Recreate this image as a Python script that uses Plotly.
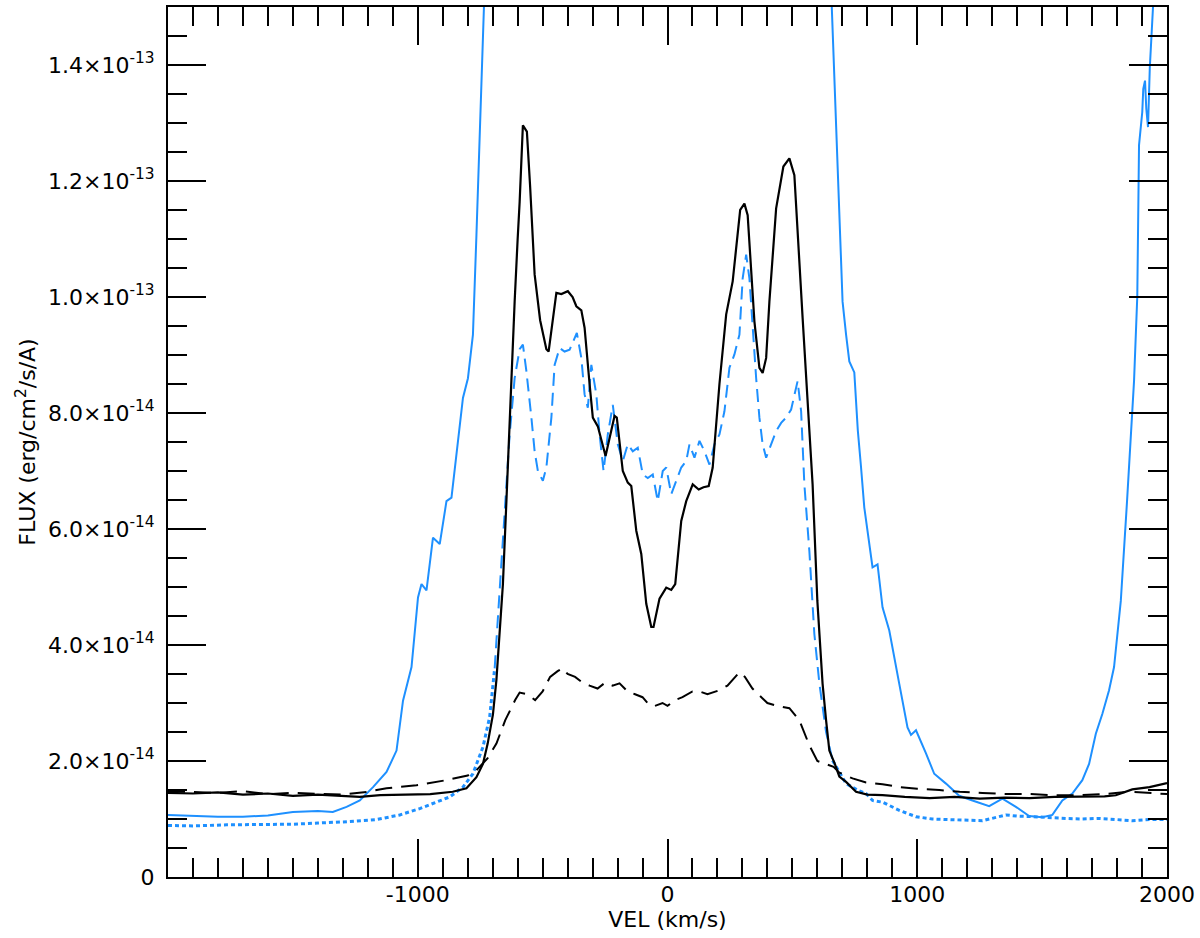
import numpy as np
import plotly.graph_objects as go

# velocities in km/s, fluxes in units of 1e-14 erg/cm^2/s/A
v_black = [-2000, -1900, -1800, -1700, -1600, -1500, -1400, -1300, -1232, -1150, -1050, -950,
           -860, -805, -765, -739, -720, -699, -685, -672, -659, -645, -632, -621, -612, -600,
           -592, -579, -563, -550, -532, -510, -485, -476, -460, -445, -425, -399, -380, -365,
           -345, -332, -312, -299, -279, -248, -212, -203, -179, -159, -145, -125, -105, -85,
           -65, -56, -32, -5, 15, 31, 55, 75, 101, 125, 144, 165, 181, 208, 235, 261, 291, 308,
           321, 348, 368, 381, 395, 408, 435, 464, 488, 508, 541, 581, 600, 621, 635, 648, 670,
           688, 715, 741, 755, 800, 861, 950, 1050, 1150, 1250, 1350, 1450, 1550, 1650, 1750,
           1795, 1861, 1930, 2000]
f_black = [1.45, 1.44, 1.46, 1.42, 1.44, 1.40, 1.42, 1.40, 1.38, 1.41, 1.42, 1.43,
           1.47, 1.53, 1.72, 1.95, 2.30, 2.80, 3.40, 4.19, 5.05, 6.48, 7.92, 9.06, 9.92, 11.0,
           11.64, 12.96, 12.85, 11.9, 10.39, 9.60, 9.10, 9.06, 9.60, 10.07, 10.05, 10.10, 10.0, 9.84,
           9.77, 9.47, 8.50, 7.92, 7.77, 7.26, 7.95, 7.92, 7.00, 6.80, 6.74, 5.97, 5.57, 4.71,
           4.31, 4.31, 4.80, 4.99, 4.95, 5.05, 6.14, 6.48, 6.77, 6.68, 6.72, 6.74, 7.06, 8.50, 9.70, 10.27, 11.50, 11.61,
           11.41, 9.58, 8.78, 8.69, 8.95, 9.92, 11.53, 12.25, 12.39, 12.10, 9.64, 6.77, 4.76, 3.33, 2.70, 2.18, 1.95,
           1.73, 1.64, 1.52, 1.47, 1.42, 1.41, 1.38, 1.36, 1.38, 1.35, 1.37, 1.36, 1.38, 1.38, 1.39,
           1.41, 1.51, 1.55, 1.62]

v_black_dash = [-2000, -1900, -1800, -1700, -1600, -1500, -1400, -1300, -1200, -1125, -1005, -885,
                -800, -765, -720, -685, -650, -632, -610, -592, -560, -530, -500, -470, -440, -420,
                -400, -370, -340, -312, -280, -250, -220, -192, -160, -130, -100, -72, -50, -20, 0,
                30, 60, 100, 128, 160, 208, 240, 270, 288, 310, 340, 368, 400, 440, 488, 528, 568,
                600, 635, 665, 688, 741, 795, 861, 928, 1000, 1088, 1170, 1261, 1350, 1450, 1550,
                1650, 1750, 1850, 1930, 2000]
f_black_dash = [1.48, 1.46, 1.45, 1.48, 1.43, 1.45, 1.44, 1.42, 1.47, 1.53, 1.58, 1.67,
                1.75, 1.84, 2.05, 2.30, 2.70, 2.87, 3.05, 3.18, 3.15, 3.05, 3.20, 3.45, 3.55, 3.60,
                3.50, 3.45, 3.35, 3.30, 3.25, 3.35, 3.30, 3.34, 3.20, 3.15, 3.10, 2.96, 2.95, 3.00, 2.95,
                3.05, 3.10, 3.20, 3.20, 3.15, 3.22, 3.30, 3.45, 3.53, 3.45, 3.25, 3.13, 3.00, 2.95, 2.91, 2.70, 2.27,
                2.00, 1.95, 1.90, 1.80, 1.70, 1.63, 1.60, 1.55, 1.52, 1.50, 1.47, 1.45, 1.43, 1.43, 1.41,
                1.41, 1.43, 1.47, 1.45, 1.43]

v_blue = [-2000, -1900, -1800, -1700, -1600, -1500, -1400, -1340, -1285, -1232, -1179, -1125,
          -1085, -1059, -1025, -999, -985, -965, -939, -912, -885, -865, -845, -819, -799, -779,
          -765, -752, -739, -725, -690, 620, 645, 675, 695, 701, 715, 728, 748, 762, 775, 788,
          821, 841, 861, 888, 928, 961, 975, 995, 1035, 1068, 1115, 1168, 1221, 1288, 1341, 1395,
          1448, 1501, 1541, 1581, 1621, 1661, 1688, 1715, 1741, 1768, 1788, 1801, 1815, 1840,
          1868, 1881, 1885, 1888, 1901, 1905, 1912, 1917, 1924, 1928, 1931, 1944, 1960]
f_blue = [1.07, 1.05, 1.04, 1.04, 1.06, 1.12, 1.14, 1.12, 1.21, 1.32, 1.55, 1.81,
          2.18, 3.04, 3.62, 4.82, 5.05, 4.94, 5.85, 5.74, 6.48, 6.54, 7.34, 8.26, 8.60, 9.35,
          11.07, 12.79, 14.51, 16.3, 22.0, 22.0, 16.5, 12.79, 10.32, 9.92, 9.35, 8.89, 8.70, 7.70, 7.06, 6.37,
          5.34, 5.39, 4.65, 4.25, 3.33, 2.58, 2.45, 2.53, 2.13, 1.78, 1.61, 1.40, 1.32, 1.22, 1.35, 1.21,
          1.05, 1.03, 1.07, 1.32, 1.44, 1.67, 1.95, 2.47, 2.81, 3.22, 3.62, 4.19, 4.76, 6.48,
          8.55, 10.01, 11.64, 12.62, 13.19, 13.59, 13.73, 13.25, 12.93, 13.40, 13.94, 15.0, 17.0]

v_blue_dash = [-2000, -1900, -1765, -1650, -1499, -1400, -1299, -1165, -1072, -992, -925, -872,
               -819, -779, -739, -712, -692, -672, -652, -632, -612, -592, -579, -565, -545, -532,
               -519, -499, -485, -465, -452, -432, -412, -392, -363, -345, -332, -319, -305, -285,
               -272, -256, -239, -219, -199, -179, -159, -139, -119, -99, -79, -59, -39, -19, -5,
               15, 35, 55, 75, 88, 108, 128, 148, 168, 188, 208, 228, 248, 268, 288, 301, 315, 328,
               341, 355, 368, 381, 395, 415, 435, 455, 475, 495, 512, 521, 535, 548, 568, 588, 608,
               635, 661, 690, 715, 760, 795, 821, 861, 928, 995, 1060, 1128, 1200, 1261, 1355, 1400,
               1461, 1530, 1595, 1660, 1728, 1800, 1861, 1930, 2000]
f_blue_dash = [0.89, 0.88, 0.90, 0.90, 0.91, 0.93, 0.95, 0.99, 1.07, 1.18, 1.29, 1.38,
               1.55, 1.78, 2.24, 2.76, 3.60, 5.00, 6.30, 7.63, 8.60, 9.10, 9.18, 8.72, 7.92, 7.34,
               7.00, 6.83, 7.06, 7.92, 8.83, 9.12, 9.06, 9.09, 9.38, 8.95, 8.32, 8.09, 8.83, 8.32,
               7.63, 7.00, 7.63, 8.14, 7.46, 7.17, 7.46, 7.34, 7.40, 6.94, 6.88, 6.94, 6.48, 7.00, 7.06,
               6.60, 6.83, 7.06, 7.17, 7.46, 7.23, 7.52, 7.34, 7.11, 7.46, 7.63, 8.03, 8.78, 9.01, 9.35, 10.32, 10.73, 10.32,
               9.41, 8.60, 7.92, 7.46, 7.23, 7.46, 7.69, 7.83, 7.92, 8.06, 8.38, 8.55, 8.03, 6.77, 5.62, 4.19, 3.34,
               2.50, 2.01, 1.80, 1.61, 1.50, 1.44, 1.32, 1.29, 1.15, 1.04, 1.00, 0.99, 0.98, 0.97, 1.07, 1.05,
               1.04, 1.02, 1.01, 1.00, 1.01, 0.99, 0.97, 0.99, 0.99]

x_ticks = [-2000, -1000, 0, 1000, 2000]
x_ticktext = ["", "-1000", "0", "1000", "2000"]
y_ticks = [0, 2, 4, 6, 8, 10, 12, 14]
y_ticktext = ["0", "2.0×10<sup>-14</sup>", "4.0×10<sup>-14</sup>", "6.0×10<sup>-14</sup>",
              "8.0×10<sup>-14</sup>", "1.0×10<sup>-13</sup>", "1.2×10<sup>-13</sup>", "1.4×10<sup>-13</sup>"]

SCALE = 1e-14
BLUE = "#1E90FF"
FONT = dict(family="DejaVu Sans", size=22, color="black")

fig = go.Figure()

vb = np.array(v_blue_dash)
fb = np.array(f_blue_dash) * SCALE
left = vb <= -700
right = vb >= 690
mid = ~left & ~right
i0, i1 = np.where(mid)[0][[0, -1]]
# the dense noisy wings render as short dots in the original
fig.add_trace(go.Scatter(x=vb[:i0 + 1], y=fb[:i0 + 1], mode="lines",
                         line=dict(color=BLUE, width=3, dash="4px,3px")))
fig.add_trace(go.Scatter(x=vb[i1:], y=fb[i1:], mode="lines",
                         line=dict(color=BLUE, width=3, dash="4px,3px")))
fig.add_trace(go.Scatter(x=vb[i0:i1 + 1], y=fb[i0:i1 + 1], mode="lines",
                         line=dict(color=BLUE, width=2, dash="13px,7px")))

fig.add_trace(go.Scatter(x=v_blue, y=np.array(f_blue) * SCALE, mode="lines",
                         line=dict(color=BLUE, width=2)))
fig.add_trace(go.Scatter(x=v_black_dash, y=np.array(f_black_dash) * SCALE, mode="lines",
                         line=dict(color="black", width=2, dash="17px,9px")))
fig.add_trace(go.Scatter(x=v_black, y=np.array(f_black) * SCALE, mode="lines",
                         line=dict(color="black", width=2.2)))

axis_common = dict(
    showline=True, linecolor="black", linewidth=2, mirror="ticks",
    ticks="inside", ticklen=38, tickwidth=2, tickcolor="black",
    showgrid=False, zeroline=False, tickfont=FONT,
)

fig.update_xaxes(
    range=[-2000, 2000], tickmode="array", tickvals=x_ticks, ticktext=x_ticktext,
    minor=dict(ticks="inside", ticklen=19, tickwidth=2, tickcolor="black", tick0=0, dtick=100),
    title=dict(text="VEL (km/s)", font=FONT, standoff=0),
    ticklabelstandoff=-3,
    **axis_common,
)
fig.update_yaxes(
    range=[0, 15 * SCALE], tickmode="array", tickvals=[t * SCALE for t in y_ticks], ticktext=y_ticktext,
    minor=dict(ticks="inside", ticklen=19, tickwidth=2, tickcolor="black", tick0=0, dtick=0.5 * SCALE),
    title=dict(text="FLUX (erg/cm<sup>2</sup>/s/A)", font=FONT, standoff=6),
    ticklabelstandoff=7,
    **axis_common,
)

fig.update_layout(
    width=1200, height=938,
    margin=dict(l=168, r=32, t=5, b=61),
    plot_bgcolor="white", paper_bgcolor="white",
    showlegend=False,
)

fig.write_html("out.html", config={"displayModeBar": False},
               post_script="document.body.style.margin='0';")
